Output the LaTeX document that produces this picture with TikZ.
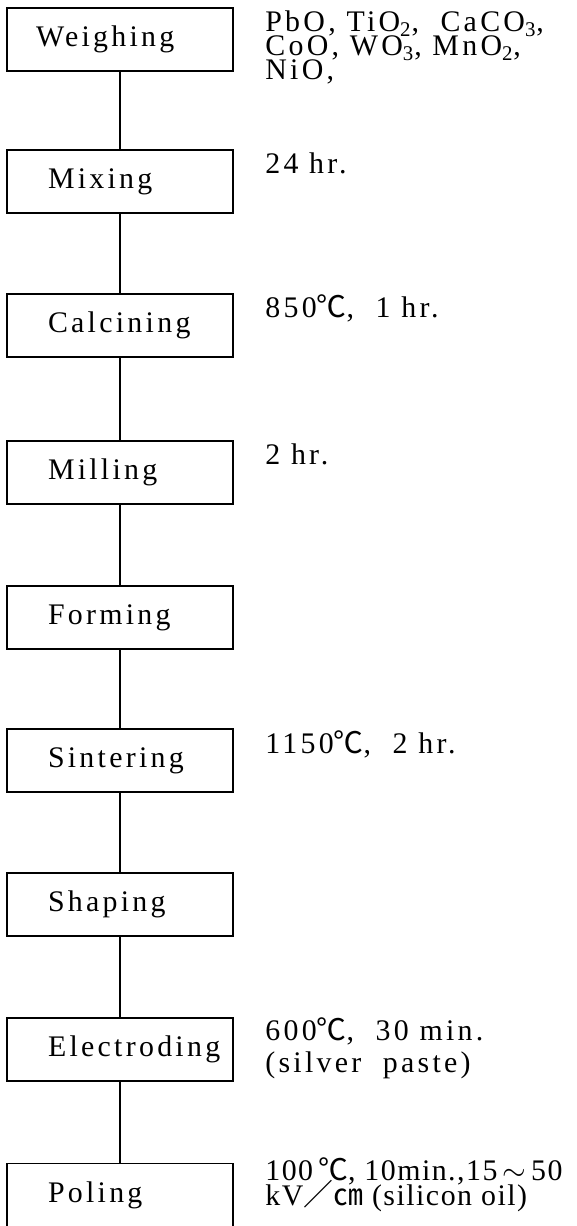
\documentclass[tikz,border=0pt]{standalone}
\usepackage{fontspec}
\setmainfont{Liberation Serif}[LetterSpace=11]
\newfontfamily\cjk{Noto Sans CJK JP}
\lineskiplimit=-20pt

\begin{document}
\begin{tikzpicture}[
  every node/.style={font=\fontsize{17}{13.7}\selectfont},
  stepbox/.style={draw=black,line width=1.1pt,align=left,inner ysep=2pt,inner xsep=0.82cm,text width=2.88cm,minimum height=1.26cm},
  widebox/.style={stepbox,inner xsep=0.58cm,text width=3.36cm},
  note/.style={anchor=base west,align=left,inner sep=0pt},
  ln/.style={line width=0.85pt}]
\useasboundingbox (0,0) rectangle (11.52,-24.52);
\node[widebox] (s1) at (2.40,-0.79) {Weighing};
\node[stepbox] (s2) at (2.40,-3.63) {Mixing};
\node[stepbox] (s3) at (2.40,-6.51) {Calcining};
\node[stepbox] (s4) at (2.40,-9.45) {Milling};
\node[stepbox] (s5) at (2.40,-12.35) {Forming};
\node[stepbox] (s6) at (2.40,-15.21) {Sintering};
\node[stepbox] (s7) at (2.40,-18.09) {Shaping};
\node[stepbox] (s8) at (2.40,-20.99) {Electroding};
\node[stepbox] (s9) at (2.40,-23.90) {Poling};
% notes: anchor is the baseline of the last line
\node[note] (n1) at (5.30,-1.60) {PbO, TiO\textsubscript{2}, \ CaCO\textsubscript{3},\\CoO, WO\textsubscript{3}, MnO\textsubscript{2},\\NiO,};
\node[note] (n2) at (5.30,-3.48) {24 hr.};
\node[note] (n3) at (5.30,-6.36) {850{\cjk ℃}, \ 1 hr.};
\node[note] (n4) at (5.30,-9.30) {2 hr.};
\node[note] (n6) at (5.30,-15.06) {1150{\cjk ℃}, \ 2 hr.};
\node[note] (n8) at (5.30,-21.44) {600{\cjk ℃}, \ 30 min.\\[4.5pt](silver \ paste)};
\node[note,font=\fontsize{17}{13.7}\selectfont\addfontfeature{LetterSpace=5}] (n9) at (5.30,-24.10) {100\,{\cjk ℃}, 10min.,15\,$\sim$\,50\\kV{\cjk ／}{\cjk ㎝} (silicon oil)};
\foreach \a/\b in {s1/s2,s2/s3,s3/s4,s4/s5,s5/s6,s6/s7,s7/s8,s8/s9} \draw[ln] (\a) -- (\b);
\end{tikzpicture}
\end{document}
